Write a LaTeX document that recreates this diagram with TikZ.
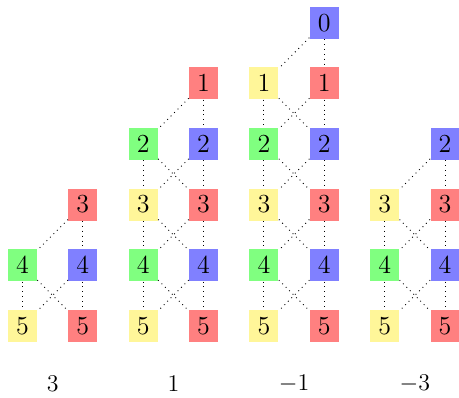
\documentclass[tikz,border=0pt]{standalone}
\definecolor{cR}{RGB}{255,128,128}
\definecolor{cB}{RGB}{128,128,255}
\definecolor{cG}{RGB}{128,255,128}
\definecolor{cY}{RGB}{255,246,153}
\tikzset{
  box/.style={minimum width=14.5pt, minimum height=16pt, inner sep=0pt, font=\fontsize{13}{15}\selectfont},
  lbl/.style={inner sep=0pt, font=\fontsize{13}{15}\selectfont},
  link/.style={dotted, line width=0.45pt}
}
\begin{document}
\begin{tikzpicture}[x=0.5pt,y=-0.5pt]
\useasboundingbox (0,0) rectangle (459,397);
\foreach \g/\s in {0/3,1/1,2/0,3/2} {
  \pgfmathsetmacro\xl{22.5+120.72*\g}
  \pgfmathsetmacro\xr{\xl+60.36}
  \pgfmathtruncatemacro\t{\s+1}
  \foreach \r in {\s,...,5} {
    \ifodd\r \def\col{cR}\else\def\col{cB}\fi
    \node[box, fill=\col] (g\g R\r) at (\xr, 22.7+60.6*\r) {\r};
  }
  \foreach \r in {\t,...,5} {
    \ifodd\r \def\col{cY}\else\def\col{cG}\fi
    \node[box, fill=\col] (g\g L\r) at (\xl, 22.7+60.6*\r) {\r};
  }
  \foreach \r in {\s,...,4} {
    \pgfmathtruncatemacro\n{\r+1}
    \draw[link] (g\g R\r) -- (g\g R\n);
    \draw[link] (g\g R\r) -- (g\g L\n);
  }
  \foreach \r in {\t,...,4} {
    \pgfmathtruncatemacro\n{\r+1}
    \draw[link] (g\g L\r) -- (g\g L\n);
    \draw[link] (g\g L\r) -- (g\g R\n);
  }
}
\node[lbl] (l0) at (52.7,384) {$3$};
\node[lbl] (l1) at (173.4,384) {$1$};
\node[lbl] (l2) at (294.1,384) {$-1$};
\node[lbl] (l3) at (414.9,384) {$-3$};
\end{tikzpicture}
\end{document}
